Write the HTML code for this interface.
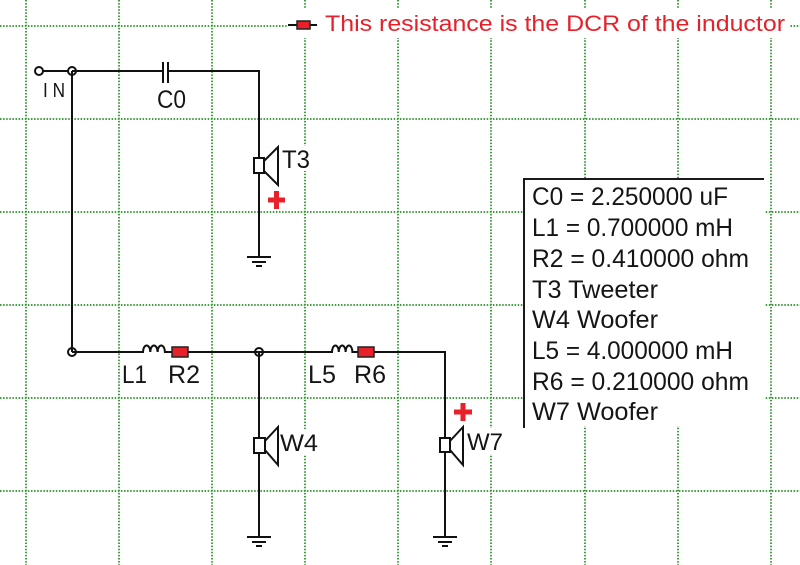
<!DOCTYPE html>
<html><head><meta charset="utf-8"><style>
html,body{margin:0;padding:0;background:#fff;width:800px;height:565px;overflow:hidden}
svg{display:block}
text{font-family:"Liberation Sans",Arial,sans-serif;fill:#151515}
</style></head><body>
<svg width="800" height="565" viewBox="0 0 800 565" xmlns="http://www.w3.org/2000/svg">
<rect width="800" height="565" fill="#fff"/>
<!-- grid -->
<g stroke="#3f9f3f" stroke-width="2" stroke-dasharray="1.5 1.6" fill="none">
<line x1="26" y1="0" x2="26" y2="565"/>
<line x1="119" y1="0" x2="119" y2="565"/>
<line x1="212" y1="0" x2="212" y2="565"/>
<line x1="305" y1="0" x2="305" y2="565"/>
<line x1="398" y1="0" x2="398" y2="565"/>
<line x1="491" y1="0" x2="491" y2="565"/>
<line x1="585" y1="0" x2="585" y2="565"/>
<line x1="678" y1="0" x2="678" y2="565"/>
<line x1="771" y1="0" x2="771" y2="565"/>
<line x1="0" y1="26" x2="800" y2="26"/>
<line x1="0" y1="119" x2="800" y2="119"/>
<line x1="0" y1="212" x2="800" y2="212"/>
<line x1="0" y1="305" x2="800" y2="305"/>
<line x1="0" y1="398" x2="800" y2="398"/>
<line x1="0" y1="491" x2="800" y2="491"/>
</g>

<!-- annotation -->
<rect x="287" y="9" width="502" height="29" fill="#fff"/>
<line x1="288" y1="25" x2="317" y2="25" stroke="#111" stroke-width="2"/>
<rect x="297" y="21" width="13" height="8" fill="#e8202a" stroke="#222" stroke-width="1.5"/>
<text x="325" y="31" font-size="22" textLength="460" lengthAdjust="spacingAndGlyphs" style="fill:#e8202a">This resistance is the DCR of the inductor</text>

<!-- label backgrounds -->
<rect x="281" y="146" width="31" height="25" fill="#fff"/>
<rect x="280" y="429" width="40" height="26" fill="#fff"/>
<rect x="466" y="428" width="40" height="26" fill="#fff"/>

<!-- wires -->
<g stroke="#111" stroke-width="2" fill="none">
<line x1="43" y1="71" x2="68" y2="71"/>
<line x1="72" y1="71" x2="163" y2="71"/>
<line x1="168" y1="71" x2="259" y2="71"/>
<line x1="163" y1="62" x2="163" y2="83"/>
<line x1="168" y1="62" x2="168" y2="83"/>
<line x1="259" y1="70" x2="259" y2="257"/>
<line x1="72" y1="71" x2="72" y2="352"/>
<path d="M72,352 H143 a3.65,6.5 0 0 1 7.3,0 a3.65,6.5 0 0 1 7.3,0 a3.65,6.5 0 0 1 7.3,0 H332 a3.4,6.5 0 0 1 6.8,0 a3.4,6.5 0 0 1 6.8,0 a3.4,6.5 0 0 1 6.8,0 H445 V537"/>
<line x1="259" y1="352" x2="259" y2="537"/>
<!-- grounds -->
<line x1="247" y1="257" x2="271" y2="257"/>
<line x1="252" y1="262" x2="266" y2="262"/>
<line x1="256" y1="266" x2="262" y2="266"/>
<line x1="247" y1="537" x2="271" y2="537"/>
<line x1="252" y1="542" x2="266" y2="542"/>
<line x1="256" y1="546" x2="262" y2="546"/>
<line x1="433" y1="537" x2="457" y2="537"/>
<line x1="438" y1="542" x2="452" y2="542"/>
<line x1="442" y1="546" x2="448" y2="546"/>
<!-- nodes -->
<circle cx="39" cy="71" r="4" fill="#fff"/>
<circle cx="72" cy="71" r="4"/>
<circle cx="72" cy="352" r="4"/>
<circle cx="259" cy="352" r="4"/>
<!-- speakers -->
<rect x="254" y="158" width="10" height="15" fill="#fff"/>
<polyline points="264,161 278,147 278,185 264,171"/>
<rect x="254" y="438" width="11" height="15" fill="#fff"/>
<polyline points="265,441 278,427 278,465 265,450"/>
<rect x="440" y="438" width="10" height="14" fill="#fff"/>
<polyline points="450,441 463,427 463,465 450,450"/>
</g>
<!-- resistors -->
<rect x="172" y="347" width="16" height="10" fill="#e8202a" stroke="#222" stroke-width="1.5"/>
<rect x="358" y="347" width="16" height="10" fill="#e8202a" stroke="#222" stroke-width="1.5"/>

<!-- red plus -->
<g fill="#e8202a">
<rect x="268" y="197.5" width="17" height="5"/>
<rect x="274" y="191" width="5" height="18"/>
<rect x="454" y="409.5" width="18" height="5"/>
<rect x="460.5" y="403" width="5" height="18"/>
</g>

<!-- labels -->
<text x="43" y="97" font-size="20" textLength="22" lengthAdjust="spacingAndGlyphs">I N</text>
<text x="157" y="108" font-size="25" textLength="29" lengthAdjust="spacingAndGlyphs">C0</text>
<text x="282" y="168" font-size="25" textLength="28" lengthAdjust="spacingAndGlyphs">T3</text>
<text x="280" y="451" font-size="24" textLength="38" lengthAdjust="spacingAndGlyphs">W4</text>
<text x="467" y="450" font-size="24" textLength="36" lengthAdjust="spacingAndGlyphs">W7</text>
<text x="122" y="383" font-size="25" textLength="25" lengthAdjust="spacingAndGlyphs">L1</text>
<text x="168" y="383" font-size="25" textLength="32" lengthAdjust="spacingAndGlyphs">R2</text>
<text x="308" y="383" font-size="25" textLength="28" lengthAdjust="spacingAndGlyphs">L5</text>
<text x="354" y="383" font-size="25" textLength="32" lengthAdjust="spacingAndGlyphs">R6</text>

<!-- parameter panel -->
<rect x="523" y="179" width="242" height="247" fill="#fff"/>
<line x1="523" y1="179" x2="764" y2="179" stroke="#1a1a1a" stroke-width="2"/>
<line x1="524" y1="178" x2="524" y2="428" stroke="#1a1a1a" stroke-width="2"/>
<g font-size="25">
<text x="532" y="205" textLength="196" lengthAdjust="spacingAndGlyphs">C0 = 2.250000 uF</text>
<text x="532" y="236" textLength="201" lengthAdjust="spacingAndGlyphs">L1 = 0.700000 mH</text>
<text x="532" y="267" textLength="217" lengthAdjust="spacingAndGlyphs">R2 = 0.410000 ohm</text>
<text x="532" y="298" textLength="126" lengthAdjust="spacingAndGlyphs">T3 Tweeter</text>
<text x="532" y="328" textLength="126" lengthAdjust="spacingAndGlyphs">W4 Woofer</text>
<text x="532" y="359" textLength="201" lengthAdjust="spacingAndGlyphs">L5 = 4.000000 mH</text>
<text x="532" y="390" textLength="217" lengthAdjust="spacingAndGlyphs">R6 = 0.210000 ohm</text>
<text x="532" y="420" textLength="126" lengthAdjust="spacingAndGlyphs">W7 Woofer</text>
</g>
</svg>
</body></html>
